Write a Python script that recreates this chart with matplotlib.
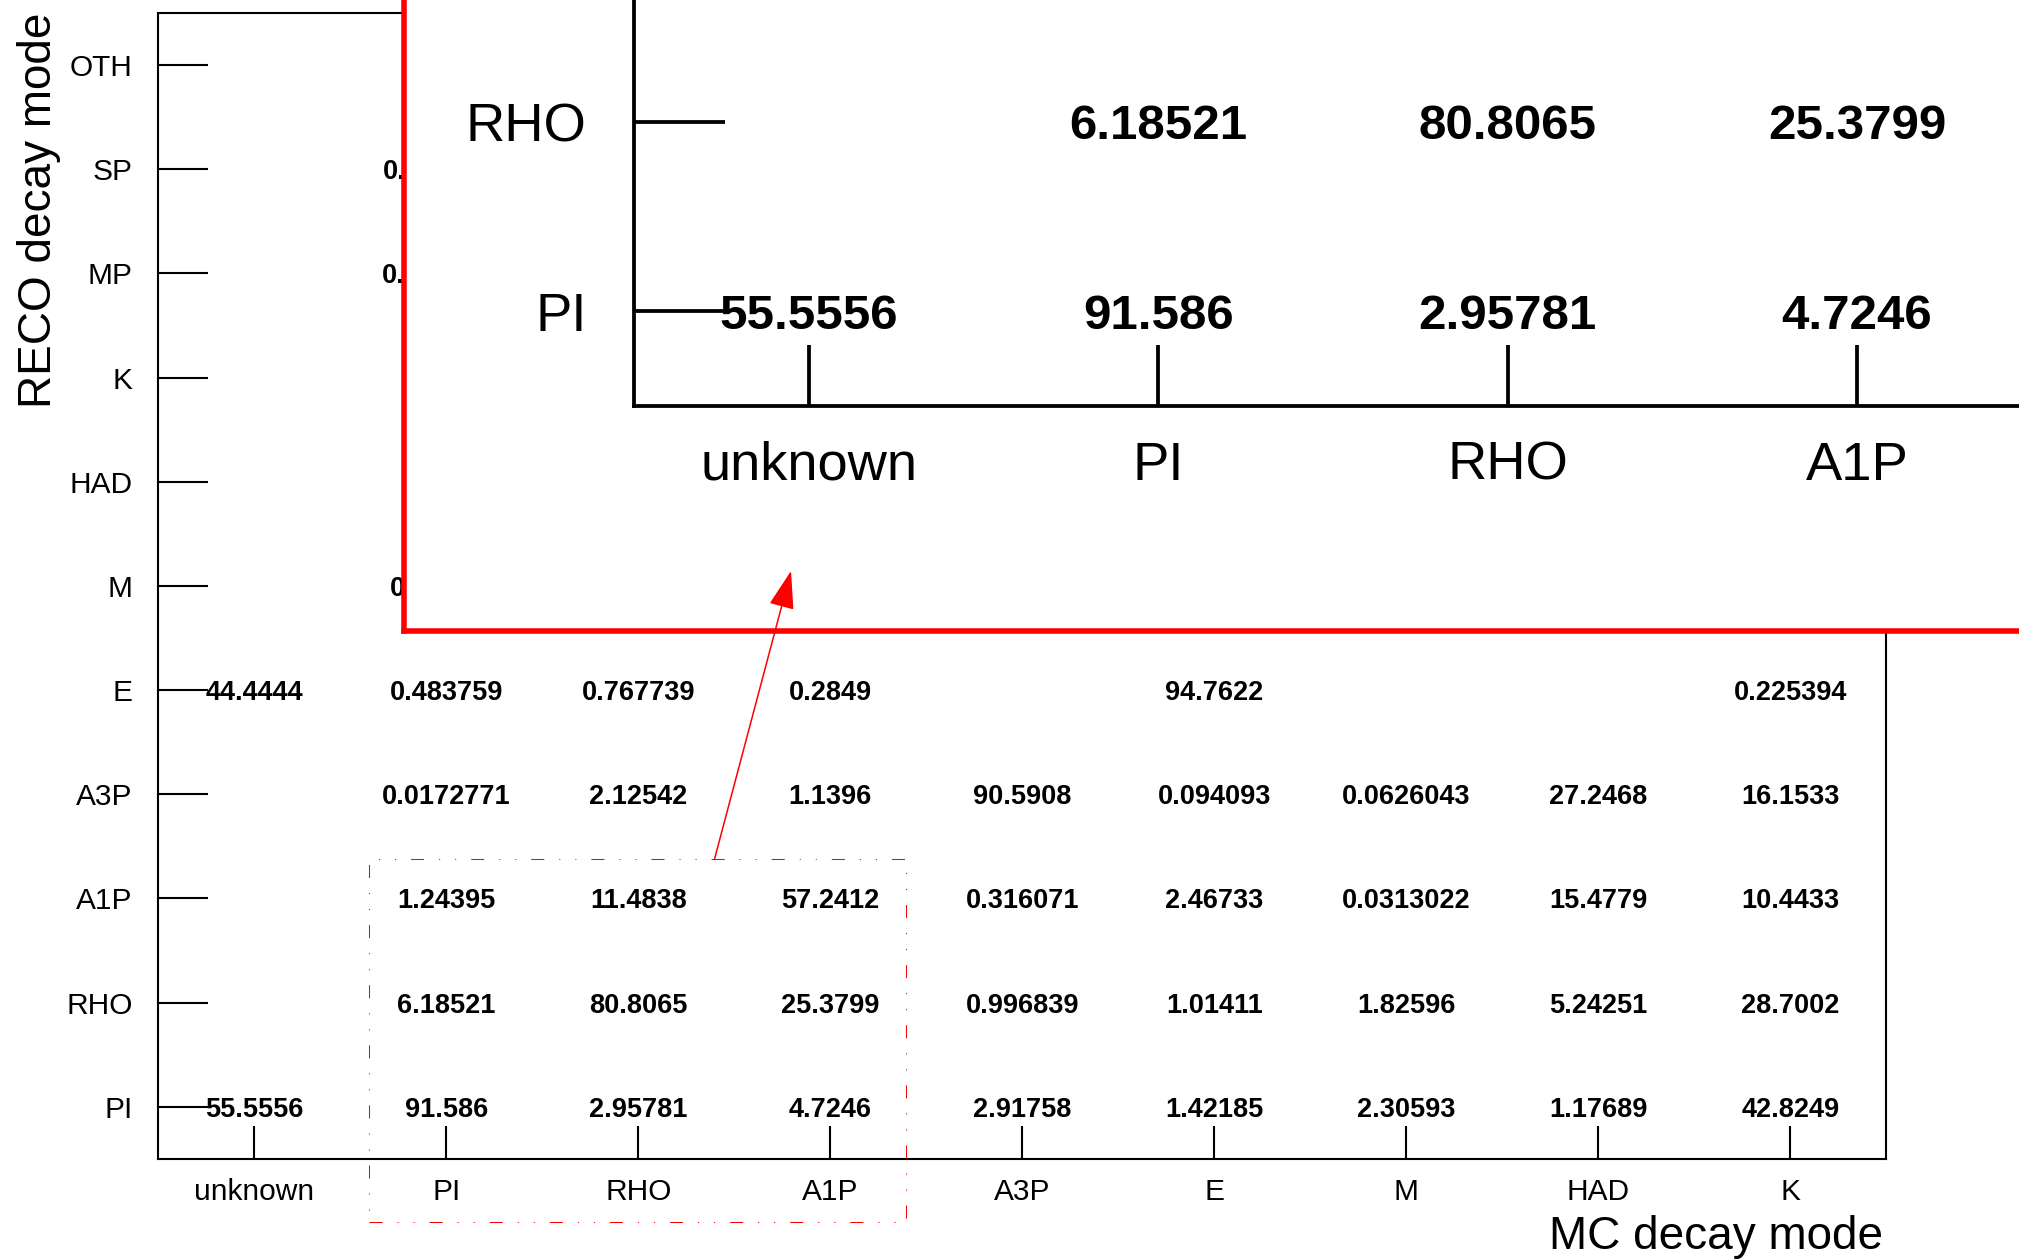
import numpy as np
import matplotlib
matplotlib.use("Agg")
import matplotlib.pyplot as plt
from matplotlib.patches import Rectangle, FancyArrowPatch

plt.rcParams['font.family'] = ['Liberation Sans', 'DejaVu Sans']

# -----------------------------
# data: MC (columns) vs RECO (rows) decay mode, in percent
# -----------------------------
mc_modes = ['unknown', 'PI', 'RHO', 'A1P', 'A3P', 'E', 'M', 'HAD', 'K']
reco_modes = ['PI', 'RHO', 'A1P', 'A3P', 'E', 'M', 'HAD', 'K', 'MP', 'SP', 'OTH']

N = None
reco_PI = [55.5556, 91.586, 2.95781, 4.7246, 2.91758, 1.42185, 2.30593, 1.17689, 42.8249]
reco_RHO = [N, 6.18521, 80.8065, 25.3799, 0.996839, 1.01411, 1.82596, 5.24251, 28.7002]
reco_A1P = [N, 1.24395, 11.4838, 57.2412, 0.316071, 2.46733, 0.0313022, 15.4779, 10.4433]
reco_A3P = [N, 0.0172771, 2.12542, 1.1396, 90.5908, 0.094093, 0.0626043, 27.2468, 16.1533]
reco_E = [44.4444, 0.483759, 0.767739, 0.2849, N, 94.7622, N, N, 0.225394]
reco_M = [N, 0.328306, N, N, N, N, N, N, N]
reco_HAD = [N] * 9
reco_K = [N] * 9
reco_MP = [N, 0.0863877, N, N, N, N, N, N, N]
reco_SP = [N, 0.0691101, N, N, N, N, N, N, N]
reco_OTH = [N] * 9

rows = [reco_PI, reco_RHO, reco_A1P, reco_A3P, reco_E, reco_M,
        reco_HAD, reco_K, reco_MP, reco_SP, reco_OTH]

# zoomed region (dashed box) and arrow, in main-axes data units
zoom_box = (1.096, -0.611, 3.894, 2.880)
arrow_from = (2.897, 2.880)
arrow_to = (3.295, 5.643)
mag = 1.82
# cells that fit inside the magnified view
inset_cols = 4
inset_rows = 2


def draw_matrix(ax, s, ncols, nrows):
    ax.set_xlim(0, len(mc_modes))
    ax.set_ylim(0, len(reco_modes))
    for j, row in enumerate(rows[:nrows]):
        for i, v in enumerate(row[:ncols]):
            if v is None:
                continue
            ax.text(i + 0.5, j + 0.5, f'{v:g}', ha='center', va='center_baseline',
                    fontsize=19.5 * s, fontweight='bold', clip_on=True)
    ax.set_xticks(np.arange(ncols) + 0.5, mc_modes[:ncols])
    ax.set_yticks(np.arange(nrows) + 0.5, reco_modes[:nrows])
    ax.tick_params(axis='x', direction='in', length=24 * s, width=1.5 * s,
                   pad=13.7 * s, labelsize=21.5 * s, top=False)
    ax.tick_params(axis='y', direction='in', length=36 * s, width=1.5 * s,
                   pad=18.7 * s, labelsize=21.5 * s, right=False)
    for sp in ax.spines.values():
        sp.set_linewidth(1.5 * s)
        sp.set_color('black')


fig = plt.figure(figsize=(20.19, 12.6), dpi=100)

# -----------------------------
# main matrix
# -----------------------------
ax = fig.add_axes([0.07846, 0.08032, 0.85582, 0.90944])
draw_matrix(ax, 1.0, len(mc_modes), len(reco_modes))
ax.set_xlabel('MC decay mode', loc='right', fontsize=33)
ax.xaxis.set_label_coords(0.998, -0.0784)
ax.xaxis.label.set_va('baseline')
ax.set_ylabel('RECO decay mode', loc='top', fontsize=33)
ax.yaxis.set_label_coords(-0.0624, 1.0)
ax.yaxis.label.set_va('baseline')

x0, y0, x1, y1 = zoom_box
ax.add_patch(Rectangle((x0, y0), x1 - x0, y1 - y0, fill=False, ec='red',
                       lw=0.75, ls=(0, (12.5, 14.4, 1, 14.4, 1, 14.4)),
                       clip_on=False, zorder=3))

# -----------------------------
# magnified inset
# -----------------------------
box = fig.add_axes([0.2001, 0.4992, 0.85, 0.55])
box.set_zorder(5)
box.set_facecolor('white')
box.set_xticks([])
box.set_yticks([])
for sp in box.spines.values():
    sp.set_color('red')
    sp.set_linewidth(4)

inner = fig.add_axes([0.31402, 0.67778, 0.85582 * mag, 0.90944 * mag])
inner.set_zorder(6)
inner.set_facecolor('none')
draw_matrix(inner, mag, inset_cols, inset_rows)

arrow = FancyArrowPatch(arrow_from, arrow_to, transform=ax.transData,
                        arrowstyle='-|>,head_length=24,head_width=8',
                        mutation_scale=1, color='red', lw=1.1,
                        shrinkA=0, shrinkB=0, zorder=10)
fig.add_artist(arrow)

plt.savefig('out.png', dpi=100)
